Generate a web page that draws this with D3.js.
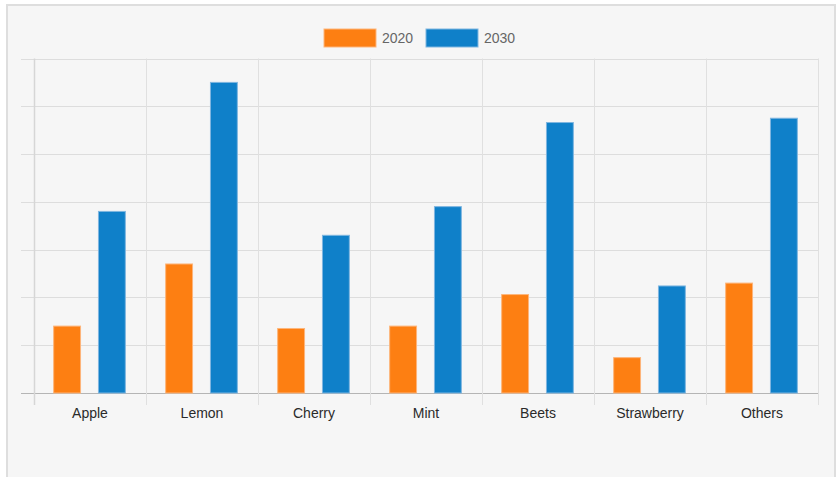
<!DOCTYPE html>
<html>
<head>
<meta charset="utf-8">
<script src="https://cdn.jsdelivr.net/npm/d3@7"></script>
<style>
  body { margin: 0; background: #fff; }
  svg { display: block; }
</style>
</head>
<body>
<div id="chart"></div>
<script>
const categories = ['Apple', 'Lemon', 'Cherry', 'Mint', 'Beets', 'Strawberry', 'Others'];
const seriesNames = ['2020', '2030'];
const values2020 = [14, 27, 13.5, 14, 20.6, 7.4, 23];
const values2030 = [38, 65, 33, 39, 56.6, 22.4, 57.5];
const yTicks = [0, 10, 20, 30, 40, 50, 60, 70];

const colors = { '2020': '#fd7f12', '2030': '#0f80c9' };
const borders = { '2020': '#fdb57a', '2030': '#7fb6e0' };

const width = 838, height = 477;
const margin = { left: 34, right: 20, top: 58.5, bottom: 84 };

const svg = d3.select('#chart').append('svg')
  .attr('width', width)
  .attr('height', height);

// panel
svg.append('rect')
  .attr('x', 7).attr('y', 5)
  .attr('width', 828).attr('height', 490)
  .attr('fill', '#f6f6f6')
  .attr('stroke', '#dedede')
  .attr('stroke-width', 2);

const x = d3.scaleBand()
  .domain(categories)
  .range([margin.left, width - margin.right]);

const x1 = d3.scaleBand()
  .domain(seriesNames)
  .range([0, x.bandwidth() * 0.8]);

const y = d3.scaleLinear()
  .domain([0, 70])
  .range([height - margin.bottom, margin.top]);

const g = svg.append('g');

// horizontal grid
g.selectAll('line.hgrid')
  .data(yTicks)
  .join('line')
  .attr('class', 'hgrid')
  .attr('x1', margin.left - 13)
  .attr('x2', width - margin.right)
  .attr('y1', d => Math.round(y(d)) + 0.5)
  .attr('y2', d => Math.round(y(d)) + 0.5)
  .attr('stroke', d => d === 0 ? '#b5b5b5' : '#dddddd')
  .attr('stroke-width', 1);

// vertical grid
const vLines = categories.map(c => x(c)).concat([width - margin.right]);
g.selectAll('line.vgrid')
  .data(vLines)
  .join('line')
  .attr('class', 'vgrid')
  .attr('x1', d => Math.round(d) + 0.5)
  .attr('x2', d => Math.round(d) + 0.5)
  .attr('y1', margin.top)
  .attr('y2', y(0) + 12)
  .attr('stroke', (d, i) => i === 0 ? '#d6d6d6' : '#e0e0e0')
  .attr('stroke-width', (d, i) => i === 0 ? 1.5 : 1);

// bars
const rows = categories.map((c, i) => ({ cat: c, vals: [
  { key: '2020', value: values2020[i] },
  { key: '2030', value: values2030[i] }
]}));

const groups = g.selectAll('g.cat')
  .data(rows)
  .join('g')
  .attr('class', 'cat')
  .attr('transform', d => `translate(${x(d.cat) + x.bandwidth() * 0.1},0)`);

const barW = x1.bandwidth() * 0.6;
groups.selectAll('rect')
  .data(d => d.vals)
  .join('rect')
  .attr('x', d => x1(d.key) + (x1.bandwidth() - barW) / 2 - 0.5)
  .attr('width', barW)
  .attr('y', d => y(d.value))
  .attr('height', d => y(0) - y(d.value))
  .attr('fill', d => colors[d.key])
  .attr('stroke', d => borders[d.key])
  .attr('stroke-width', 1);

// x labels
g.selectAll('text.xlab')
  .data(categories)
  .join('text')
  .attr('class', 'xlab')
  .attr('x', d => x(d) + x.bandwidth() / 2)
  .attr('y', y(0) + 25)
  .attr('text-anchor', 'middle')
  .attr('font-family', 'Arial, "Liberation Sans", sans-serif')
  .attr('font-size', 14)
  .attr('fill', '#2a2a2a')
  .text(d => d);

// legend
const legend = svg.append('g');
const legendX = [324, 426];
seriesNames.forEach((s, i) => {
  legend.append('rect')
    .attr('x', legendX[i]).attr('y', 29)
    .attr('width', 52).attr('height', 18)
    .attr('fill', colors[s])
    .attr('stroke', borders[s]);
  legend.append('text')
    .attr('x', legendX[i] + 58)
    .attr('y', 43)
    .attr('font-family', 'Arial, "Liberation Sans", sans-serif')
    .attr('font-size', 14)
    .attr('fill', '#666')
    .text(s);
});
</script>
</body>
</html>
